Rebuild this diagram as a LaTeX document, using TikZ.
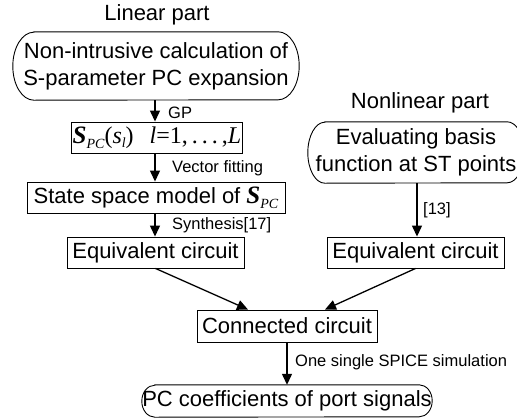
\documentclass[tikz,border=0pt]{standalone}
\usepackage{fontspec}
\setmainfont{Liberation Sans}
\newfontfamily\tms{Liberation Serif}
\usetikzlibrary{arrows.meta,calc}
\newcommand\pillbox[3]{%
 \draw[boxline] ([xshift=#2]#1.north west) -- ([xshift=-#2]#1.north east)
   arc[start angle=90,end angle=-90,x radius=#2,y radius=#3]
   -- ([xshift=#2]#1.south west)
   arc[start angle=270,end angle=90,x radius=#2,y radius=#3] -- cycle;}
\begin{document}
\begin{tikzpicture}[x=1pt,y=1pt,
  big/.style={font=\fontsize{22}{27}\selectfont, inner sep=0pt, align=center},
  lbl/.style={font=\fontsize{16.5}{19}\selectfont, inner sep=0pt, anchor=west},
  sbox/.style={big, draw, line width=0.9pt},
  pbox/.style={big},
  boxline/.style={line width=0.9pt},
  arr/.style={line width=1.3pt, -{Triangle[length=11pt,width=10pt]}}]
\useasboundingbox (0,0) rectangle (517,-418);
% linear part
\node[big] (linlab) at (157,-15) {Linear part};
\node[pbox, minimum width=286pt, minimum height=68pt] (top) at (156,-66)
  {Non-intrusive calculation of\\S-parameter PC expansion};
\pillbox{top}{21pt}{34pt}
\node[sbox, minimum width=171pt, minimum height=31pt] (spc) at (157,-137.5)
  {{\tms\fontsize{25}{28}\selectfont\bfseries\itshape S}\raisebox{-5pt}{\tms\fontsize{14}{16}\selectfont\itshape PC}{\tms\fontsize{24}{28}\selectfont(\itshape s\raisebox{-4pt}{\fontsize{14}{16}\selectfont l}\upshape)\hspace{16pt}\itshape l\upshape=1,\,.\,.\,.\,,\itshape L}};
\node[sbox, minimum width=258pt, minimum height=31pt] (ss) at (156,-197.5)
  {State space model of {\tms\fontsize{25}{28}\selectfont\bfseries\itshape S}\raisebox{-5pt}{\tms\fontsize{14}{16}\selectfont\itshape PC}};
\node[sbox, minimum width=177pt, minimum height=31pt] (eqL) at (155.5,-252.5) {Equivalent circuit};
% nonlinear part
\node[big] (nllab) at (420,-103) {Nonlinear part};
\node[pbox, minimum width=216pt, minimum height=61pt] (nl) at (416,-152.5)
  {Evaluating basis\\function at ST points};
\pillbox{nl}{17pt}{30.5pt}
\node[sbox, minimum width=177pt, minimum height=31pt] (eqR) at (415.5,-252.5) {Equivalent circuit};
% bottom
\node[sbox, minimum width=180pt, minimum height=32pt] (conn) at (287,-326) {Connected circuit};
\node[pbox, minimum width=290pt, minimum height=32pt] (pc) at (287,-401) {PC coefficients of port signals};
\pillbox{pc}{13pt}{16pt}
% arrows
\draw[arr] (155,-100) coordinate (a1) -- (a1 |- spc.north);
\draw[arr] (155,-153) coordinate (a2) -- (a2 |- ss.north);
\draw[arr] (155,-213) coordinate (a3) -- (a3 |- eqL.north);
\draw[arr] (417,-183) coordinate (a4) -- (a4 |- eqR.north);
\draw[arr] (eqL.south) -- ([xshift=-39pt]conn.north);
\draw[arr] (eqR.south) -- ([xshift=38pt]conn.north);
\draw[arr] (conn.south) -- (pc.north);
% labels
\node[lbl] (gp) at (168,-113) {GP};
\node[lbl] (vf) at (172,-168) {Vector fitting};
\node[lbl] (syn) at (172,-225) {Synthesis[17]};
\node[lbl] (ref13) at (423,-210) {[13]};
\node[lbl] (spice) at (295,-362) {One single SPICE simulation};
\end{tikzpicture}
\end{document}
